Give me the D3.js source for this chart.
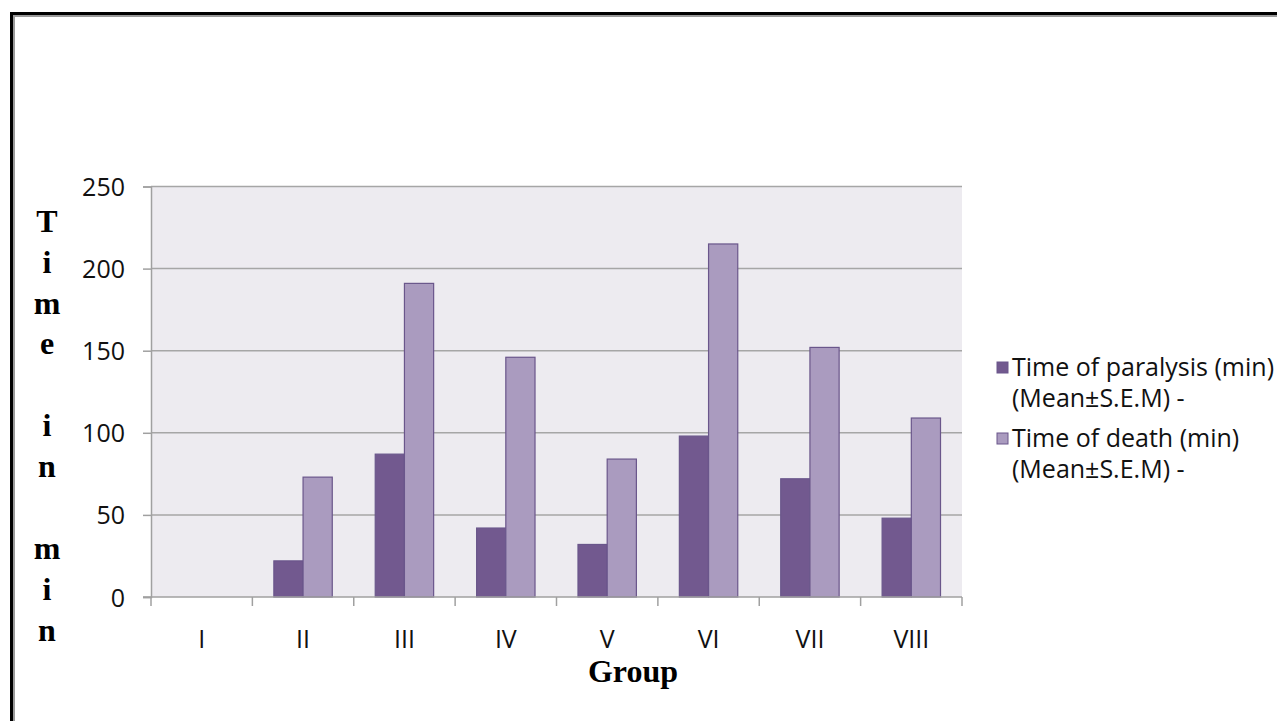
<!DOCTYPE html>
<html>
<head>
<meta charset="utf-8">
<script src="https://cdn.jsdelivr.net/npm/d3@7"></script>
<style>
  body { margin: 0; background: #fff; }
  svg { display: block; }
</style>
</head>
<body>
<svg></svg>
<script>
let groups = ['I', 'II', 'III', 'IV', 'V', 'VI', 'VII', 'VIII']
let paralysis = [0, 22, 87, 42, 32, 98, 72, 48]
let death = [0, 73, 191, 146, 84, 215, 152, 109]
let seriesNames = ['Time of paralysis (min)', 'Time of death (min)']
let seriesNotes = ['(Mean\u00b1S.E.M) -', '(Mean\u00b1S.E.M) -']
let seriesColors = ['#72598f', '#aa9bbf']
let yTicks = [0, 50, 100, 150, 200, 250]
let yTitle = ['T', 'i', 'm', 'e', '', 'i', 'n', '', 'm', 'i', 'n']
let xTitle = 'Group'

let width = 1277
let height = 721
let plotLeft = 151
let plotRight = 962
let plotTop = 186.5
let plotBottom = 597

let sans = '"Open Sans", sans-serif'
let serif = '"Liberation Serif", "Times New Roman", serif'
let labelSize = '25px'

let svg = d3.select('svg')
    .attr('width', width)
    .attr('height', height)

// outer frame, only left and top edges show
svg.append('path')
    .attr('d', `M11.5 ${height} V13.5 H${width}`)
    .attr('fill', 'none')
    .attr('stroke', '#000')
    .attr('stroke-width', 3)
svg.append('path')
    .attr('d', `M14 ${height} V16 H${width}`)
    .attr('fill', 'none')
    .attr('stroke', '#9a9a9a')
    .attr('stroke-width', 2)

let x0 = d3.scaleBand()
            .domain(groups)
            .range([plotLeft, plotRight])

let x1 = d3.scaleBand()
            .domain([0, 1])
            .range([0, x0.bandwidth()])
            .paddingOuter(0.736)

let y = d3.scaleLinear()
            .domain([0, 250])
            .range([plotBottom, plotTop])

svg.append('rect')
    .attr('x', plotLeft)
    .attr('y', plotTop)
    .attr('width', plotRight - plotLeft)
    .attr('height', plotBottom - plotTop)
    .attr('fill', '#edebf0')

svg.append('g')
  .selectAll('line')
  .data(yTicks.slice(1))
  .enter()
  .append('line')
    .attr('x1', plotLeft)
    .attr('x2', plotRight)
    .attr('y1', d => y(d))
    .attr('y2', d => y(d))
    .attr('stroke', '#a6a6a6')
    .attr('stroke-width', 1.5)

let rows = groups.map((g, i) => ({ group: g, values: [paralysis[i], death[i]] }))

svg.append('g')
  .selectAll('g')
  .data(rows)
  .enter()
  .append('g')
    .attr('transform', d => `translate(${x0(d.group)},0)`)
  .selectAll('rect')
  .data(d => d.values.map((v, k) => ({ k: k, v: v })))
  .enter()
  .append('rect')
    .attr('x', d => x1(d.k))
    .attr('y', d => y(d.v))
    .attr('width', x1.bandwidth())
    .attr('height', d => plotBottom - y(d.v))
    .attr('fill', d => seriesColors[d.k])
    .attr('stroke', '#6a568b')
    .attr('stroke-width', 1.2)

// y axis
let yAxis = svg.append('g')
    .attr('transform', `translate(${plotLeft},0)`)
    .call(d3.axisLeft(y).tickValues(yTicks).tickSize(8).tickPadding(18))
yAxis.select('.domain').attr('stroke', '#a0a0a0').attr('stroke-width', 1.5)
yAxis.selectAll('.tick line').attr('stroke', '#a0a0a0').attr('stroke-width', 1.5)
yAxis.selectAll('.tick text')
    .attr('dy', '0.36em')
    .attr('fill', '#111')
    .style('font-family', sans)
    .style('font-size', labelSize)

// x axis: labels in the middle of each band, ticks on the band edges
let xAxis = svg.append('g')
    .attr('transform', `translate(0,${plotBottom})`)
    .call(d3.axisBottom(x0).tickSize(0).tickPadding(33))
xAxis.select('.domain').remove()
xAxis.selectAll('.tick text')
    .attr('fill', '#111')
    .style('font-family', sans)
    .style('font-size', labelSize)

svg.append('line')
    .attr('x1', plotLeft - 8)
    .attr('x2', plotRight)
    .attr('y1', plotBottom)
    .attr('y2', plotBottom)
    .attr('stroke', '#a0a0a0')
    .attr('stroke-width', 1.5)

svg.append('g')
  .selectAll('line')
  .data(groups.map(g => x0(g)).concat([plotRight]))
  .enter()
  .append('line')
    .attr('x1', d => d)
    .attr('x2', d => d)
    .attr('y1', plotBottom)
    .attr('y2', plotBottom + 9)
    .attr('stroke', '#a0a0a0')
    .attr('stroke-width', 1.5)

// axis titles
svg.append('g')
  .selectAll('text')
  .data(yTitle)
  .enter()
  .append('text')
    .attr('x', 47)
    .attr('y', (d, i) => 231.7 + i * 40.9)
    .attr('text-anchor', 'middle')
    .style('font-family', serif)
    .style('font-weight', 'bold')
    .style('font-size', '32px')
    .text(d => d)

svg.append('text')
    .attr('x', 633)
    .attr('y', 682)
    .attr('text-anchor', 'middle')
    .style('font-family', serif)
    .style('font-weight', 'bold')
    .style('font-size', '32px')
    .text(xTitle)

// legend
let legend = svg.append('g')
  .selectAll('g')
  .data(seriesNames)
  .enter()
  .append('g')
    .attr('transform', (d, i) => `translate(997,${376 + i * 71})`)

legend.append('rect')
    .attr('x', 0)
    .attr('y', -14)
    .attr('width', 11)
    .attr('height', 11)
    .attr('fill', (d, i) => seriesColors[i])
    .attr('stroke', '#6a568b')
    .attr('stroke-width', 1)

legend.append('text')
    .attr('x', 15)
    .attr('y', 0)
    .attr('fill', '#111')
    .style('font-family', sans)
    .style('font-size', labelSize)
    .text(d => d)

legend.append('text')
    .attr('x', 15)
    .attr('y', 31)
    .attr('fill', '#111')
    .style('font-family', sans)
    .style('font-size', labelSize)
    .text((d, i) => seriesNotes[i])
</script>
</body>
</html>
